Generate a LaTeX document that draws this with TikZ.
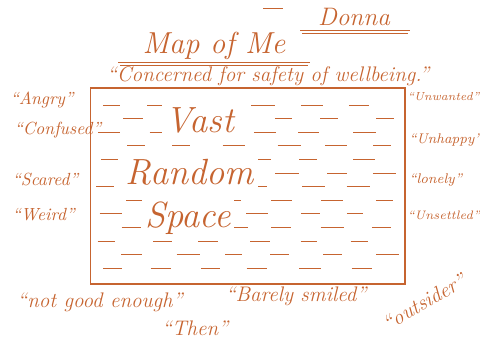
\documentclass[tikz,border=0pt]{standalone}
\usepackage{tikz}
\usetikzlibrary{positioning}
\definecolor{ink}{RGB}{198,100,48}

\begin{document}
\begin{tikzpicture}[x=0.02cm,y=-0.02cm,line width=0.6pt,
  word/.style={text=ink,font=\itshape\large,inner sep=1pt},
  side/.style={text=ink,font=\itshape,inner sep=1pt},
  big/.style={text=ink,font=\itshape\huge,fill=white,inner sep=2pt},
  stroke/.style={draw=ink,line width=0.5pt}]
  \useasboundingbox (0,0) rectangle (480,340);

  % Title
  \draw[stroke] (263,8) -- (283,8);
  \node[word,font=\itshape\Large] (D) at (354,17) {Donna};
  \draw[stroke] (300,30) -- (410,30);
  \draw[stroke] (302,33) -- (408,33);
  \node[word,font=\itshape\LARGE] (M) at (214,46) {Map of Me};
  \draw[stroke] (118,62) -- (310,62);
  \draw[stroke] (120,65) -- (308,65);
  \node[word] (C) at (268,76) {``Concerned for safety of wellbeing.''};

  % The box and its lines
  \node[draw=ink,minimum width=6.3cm,minimum height=3.92cm,inner sep=0pt] (box) at (247.5,186) {};
  \pgfmathsetseed{7}
  \foreach \r in {0,...,12}{
    \pgfmathsetmacro\yy{105+13.6*\r}
    \pgfmathsetmacro\xo{mod(\r,2)*24}
    \foreach \c in {0,...,5}{
      \pgfmathsetmacro\xa{96+\xo+50*\c+rnd*8}
      \pgfmathsetmacro\ln{16+rnd*8}
      \draw[stroke] (\xa,\yy) -- ++(\ln,0);
    }
  }
  \node[big] (vast) at (200,120) {Vast};
  \node[big] (rand) at (190,172) {Random};
  \node[big] (space) at (188,218) {Space};

  % Feelings, left
  \node[side,anchor=west] (a1) at (8,100) {``Angry''};
  \node[side,anchor=west] (a2) at (12,130) {``Confused''};
  \node[side,anchor=west] (a3) at (10,180) {``Scared''};
  \node[side,anchor=west] (a4) at (10,215) {``Weird''};

  % Feelings, right
  \node[side,font=\itshape\fontsize{6.6}{8}\selectfont,anchor=west,inner sep=0pt] (b1) at (407,97) {``Unwanted''};
  \node[side,font=\itshape\footnotesize,anchor=west] (b2) at (407,140) {``Unhappy''};
  \node[side,font=\itshape\footnotesize,anchor=west] (b3) at (407,180) {``lonely''};
  \node[side,font=\itshape\scriptsize,anchor=west,inner sep=0pt] (b4) at (407,215) {``Unsettled''};

  % Below the box
  \node[word] (n1) at (100,302) {``not good enough''};
  \node[word] (n2) at (296,296) {``Barely smiled''};
  \node[word] (n3) at (195,328) {``Then''};
  \node[word,rotate=30] (n4) at (424,302) {``outsider''};
\end{tikzpicture}
\end{document}
